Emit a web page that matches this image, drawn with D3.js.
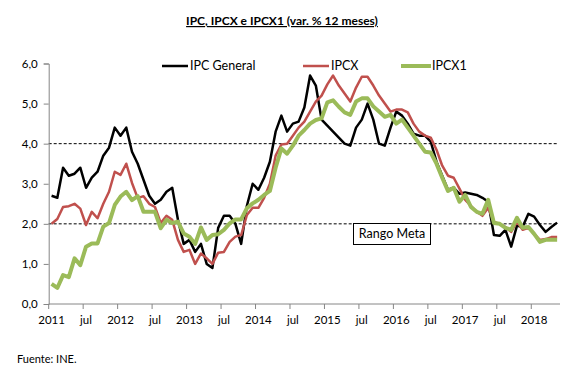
<!DOCTYPE html>
<html>
<head>
<meta charset="utf-8">
<script src="https://cdn.jsdelivr.net/npm/d3@7"></script>
<style>
  body { margin: 0; background: #fff; }
  text { font-family: Lato, "Open Sans", sans-serif; }
</style>
</head>
<body>
<svg width="577" height="375"></svg>
<script>
// monthly data, Jan 2011 - May 2018
var ipc = [
  2.7, 2.65, 3.4, 3.2, 3.25, 3.4, 2.9, 3.15, 3.3, 3.7, 3.9, 4.4,
  4.2, 4.4, 3.8, 3.5, 3.1, 2.7, 2.5, 2.6, 2.8, 2.9, 2.1, 1.5,
  1.6, 1.3, 1.5, 1.0, 0.9, 1.9, 2.2, 2.2, 2.0, 1.5, 2.45, 3.0,
  2.85, 3.15, 3.55, 4.3, 4.7, 4.3, 4.5, 4.55, 4.9, 5.7, 5.45, 4.6,
  4.45, 4.3, 4.15, 4.0, 3.95, 4.4, 4.6, 5.0, 4.6, 4.0, 3.95, 4.4,
  4.8, 4.7, 4.5, 4.25, 4.2, 4.2, 4.05, 3.55, 3.2, 2.85, 2.9, 2.75,
  2.78, 2.75, 2.72, 2.65, 2.55, 1.72, 1.7, 1.85, 1.43, 1.95, 1.93, 2.25,
  2.18, 1.97, 1.8, 1.92, 2.03
];
var ipcx = [
  2.0, 2.12, 2.42, 2.44, 2.5, 2.38, 1.97, 2.3, 2.14, 2.5, 2.8, 3.3,
  3.22, 3.5, 3.02, 2.64, 2.69, 2.5, 2.42, 2.02, 2.2, 2.1, 1.6, 1.3,
  1.35, 1.0, 1.26, 1.14, 1.0, 1.28, 1.3, 1.55, 1.68, 1.72, 2.22, 2.4,
  2.4, 2.65, 3.0, 3.7, 3.98, 4.0, 4.2, 4.4, 4.55, 4.8, 5.05, 5.2,
  5.48, 5.7, 5.45, 5.25, 5.05, 5.4, 5.67, 5.67, 5.45, 5.2, 5.0, 4.8,
  4.85, 4.85, 4.78, 4.5, 4.3, 4.2, 4.15, 3.85, 3.45, 3.2, 3.15, 2.88,
  2.6, 2.45, 2.3, 2.2, 2.4, 2.05, 2.0, 1.92, 1.8, 2.05, 1.85, 1.9,
  1.75, 1.6, 1.62, 1.67, 1.67
];
var ipcx1 = [
  0.5, 0.4, 0.72, 0.67, 1.14, 0.97, 1.43, 1.51, 1.51, 1.93, 2.02, 2.47,
  2.68, 2.8, 2.59, 2.69, 2.3, 2.3, 2.3, 1.89, 2.1, 2.02, 2.05, 1.76,
  1.68, 1.5, 1.91, 1.6, 1.72, 1.74, 1.85, 2.01, 2.11, 2.11, 2.39, 2.51,
  2.6, 2.72, 2.82, 3.4, 3.88, 3.75, 3.95, 4.2, 4.34, 4.5, 4.59, 4.63,
  5.03, 5.08, 4.92, 4.78, 4.72, 5.05, 5.13, 5.13, 4.93, 4.8, 4.67, 4.72,
  4.5, 4.6, 4.4, 4.2, 4.0, 3.8, 3.78, 3.5, 3.15, 2.82, 2.9, 2.55,
  2.72, 2.42, 2.3, 2.25, 2.6, 2.02, 2.0, 1.9, 1.85, 2.15, 1.9, 1.92,
  1.75, 1.55, 1.6, 1.6, 1.6
];
var yTicks = [0, 1, 2, 3, 4, 5, 6];
var metaLines = [2, 4];

var series = [
  {name: "IPC General", values: ipc, color: "#000000", width: 2.5},
  {name: "IPCX", values: ipcx, color: "#C0504D", width: 2.5},
  {name: "IPCX1", values: ipcx1, color: "#9BBB59", width: 4}
];

var months = d3.range(ipc.length);
var svg = d3.select("svg");

var plotLeft = 48.7, plotRight = 560, plotTop = 63.5, plotBottom = 304;

var x = d3.scaleBand().domain(months).range([plotLeft, plotRight]);
var y = d3.scaleLinear().domain([0, 6]).range([plotBottom, plotTop]);

// month label: "2011", "jul", ...
function monthLabel(i) {
  if (i % 12 == 0) return String(2011 + i / 12);
  if (i % 12 == 6) return "jul";
  return "";
}

// title
svg.append("text")
  .attr("x", 282).attr("y", 25)
  .attr("text-anchor", "middle")
  .style("font-size", "12px").style("font-weight", "bold")
  .style("text-decoration", "underline")
  .text("IPC, IPCX e IPCX1 (var. % 12 meses)");

// dashed lines at 2 and 4
svg.append("g").selectAll("line")
  .data(metaLines)
  .enter().append("line")
    .attr("x1", plotLeft).attr("x2", 558)
    .attr("y1", function(d) { return y(d); })
    .attr("y2", function(d) { return y(d); })
    .style("stroke", "#000").style("stroke-width", 1)
    .style("stroke-dasharray", "3,2");

// y axis
var yAxis = svg.append("g")
  .attr("transform", "translate(" + plotLeft + ",0)")
  .call(d3.axisLeft(y).tickValues(yTicks).tickSize(5).tickPadding(6)
    .tickFormat(function(d) { return d3.format(".1f")(d).replace(".", ","); }));

// x axis (ticks every 6 months)
var xAxis = svg.append("g")
  .attr("transform", "translate(0," + plotBottom + ")")
  .call(d3.axisBottom(x).tickSize(0).tickPadding(12).tickFormat(monthLabel));

xAxis.selectAll(".tick").filter(function(d) { return monthLabel(d) == ""; }).remove();

var tickPos = d3.range(0, ipc.length, 6);
xAxis.selectAll(".mtick")
  .data(tickPos)
  .enter().append("line")
    .attr("x1", function(d) { return x(d); })
    .attr("x2", function(d) { return x(d); })
    .attr("y1", 0).attr("y2", 5)
    .style("stroke", "#868686");

[yAxis, xAxis].forEach(function(a) {
  a.select(".domain").style("stroke", "#868686");
  a.selectAll(".tick line").style("stroke", "#868686");
  a.selectAll("text").style("font-size", "11.5px").style("fill", "#000")
    .style("font-family", "Lato, sans-serif");
});
xAxis.select(".domain").attr("d", "M" + plotLeft + ",0H" + plotRight);

// lines
var line = d3.line()
  .x(function(d, i) { return x(i) + x.bandwidth() / 2; })
  .y(function(d) { return y(d); });

svg.append("g").selectAll("path")
  .data(series)
  .enter().append("path")
    .attr("d", function(d) { return line(d.values); })
    .style("fill", "none")
    .style("stroke", function(d) { return d.color; })
    .style("stroke-width", function(d) { return d.width; })
    .style("stroke-linejoin", "round");

// legend
var legendX = [162, 303, 401];
var lg = svg.append("g").selectAll("g")
  .data(series)
  .enter().append("g")
    .attr("transform", function(d, i) { return "translate(" + legendX[i] + ",66)"; });
lg.append("line")
  .attr("x1", 0).attr("x2", function(d, i) { return i == 2 ? 30 : 26; })
  .style("stroke", function(d) { return d.color; })
  .style("stroke-width", function(d) { return d.width; });
lg.append("text")
  .attr("x", function(d, i) { return i == 2 ? 31 : 28; })
  .attr("dy", "0.35em")
  .style("font-size", "12.5px")
  .text(function(d) { return d.name; });

// "Rango Meta" box
svg.append("rect")
  .attr("x", 353.5).attr("y", 223.5)
  .attr("width", 77).attr("height", 21)
  .style("fill", "#fff").style("stroke", "#000").style("stroke-width", 1);
svg.append("text")
  .attr("x", 392).attr("y", 234)
  .attr("dy", "0.35em").attr("text-anchor", "middle")
  .style("font-size", "12.5px")
  .text("Rango Meta");

// source
svg.append("text")
  .attr("x", 17).attr("y", 359)
  .attr("dy", "0.35em")
  .style("font-size", "11px")
  .text("Fuente: INE.");
</script>
</body>
</html>
